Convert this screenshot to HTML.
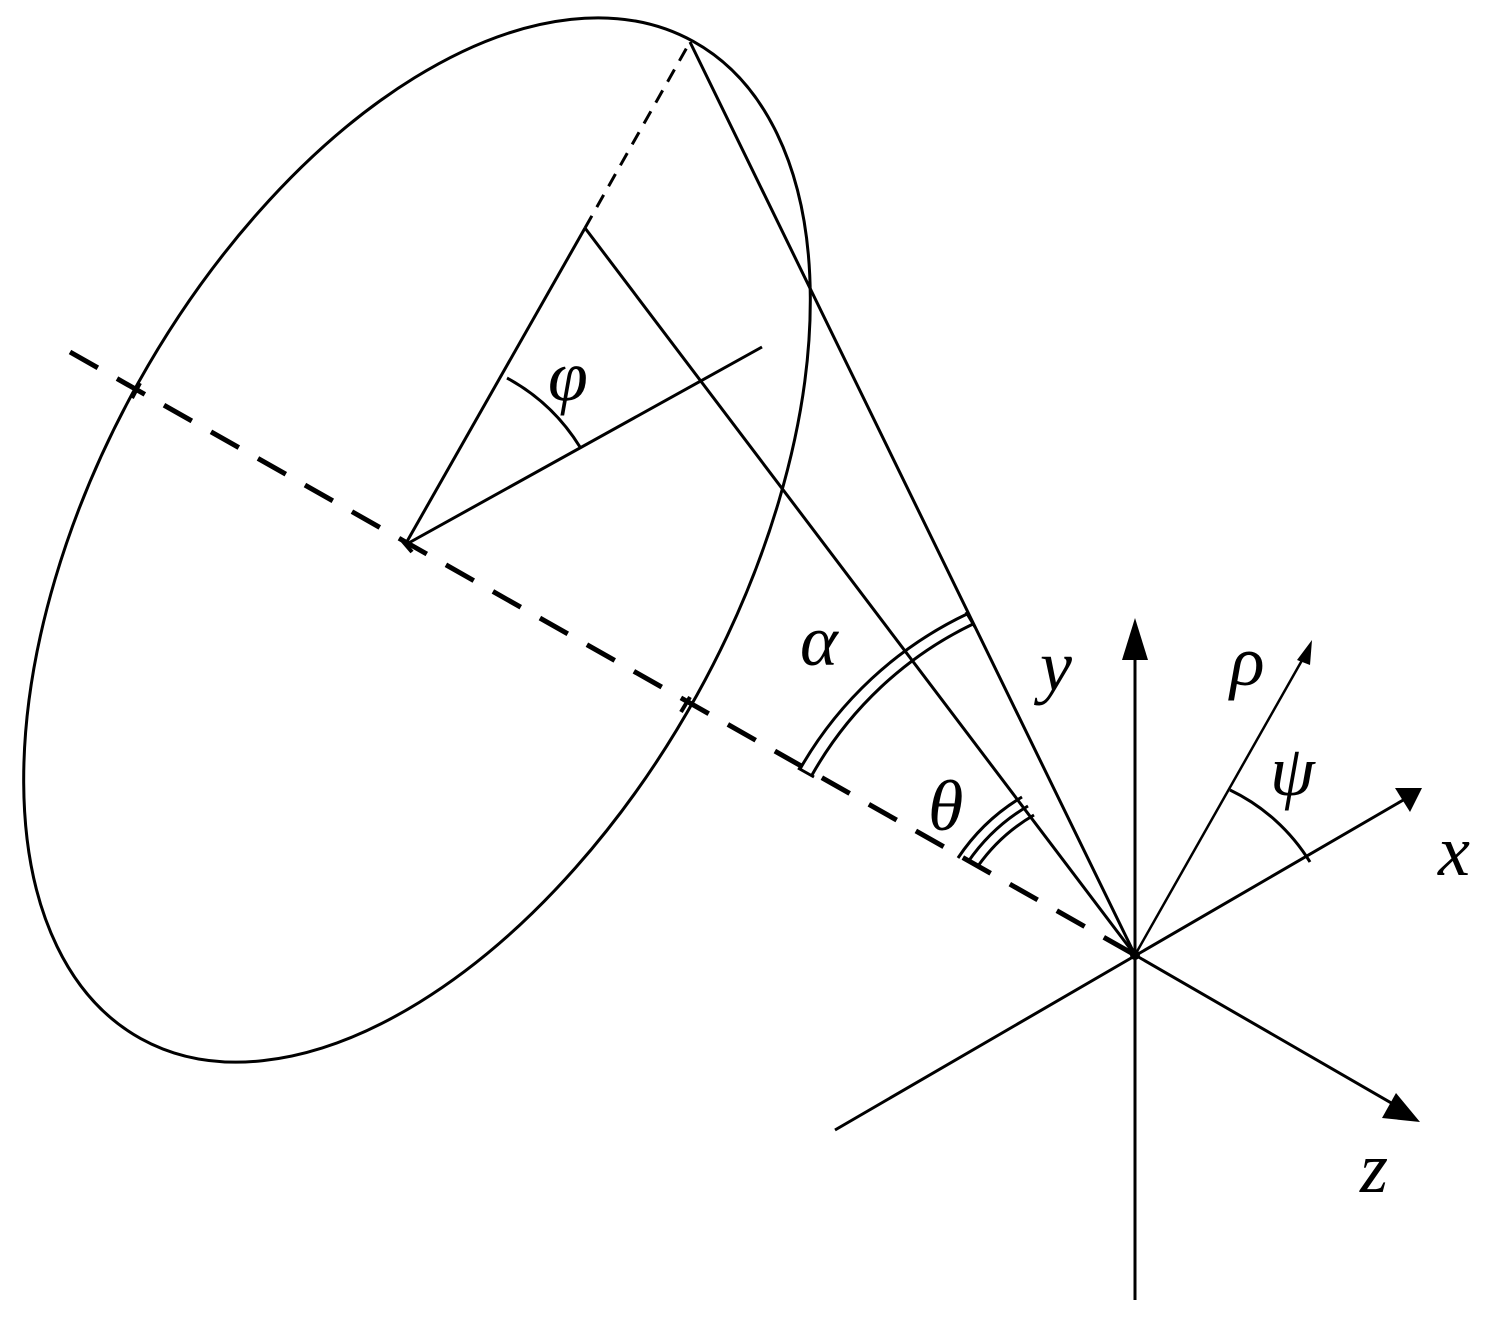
<!DOCTYPE html>
<html><head><meta charset="utf-8"><style>html,body{margin:0;padding:0;background:#fff}svg{display:block}</style></head>
<body>
<svg width="1501" height="1335" viewBox="0 0 1501 1335" xmlns="http://www.w3.org/2000/svg">
<g fill="none" stroke="#000" stroke-width="3">
<ellipse cx="417" cy="540" rx="570" ry="320" transform="rotate(-61 417 540)"/>
<line x1="70" y1="352" x2="1135" y2="955" stroke-width="5" stroke-dasharray="32,22"/>
<line x1="585" y1="228" x2="690" y2="42" stroke-dasharray="14,10"/>
<line x1="585" y1="228" x2="405" y2="545"/>
<line x1="585" y1="228" x2="1135" y2="955"/>
<line x1="405" y1="545" x2="762" y2="347"/>
<line x1="690" y1="42" x2="1135" y2="955"/>
<path d="M507 378 A195 195 0 0 1 580 447"/>
<line x1="140" y1="383" x2="132" y2="398" stroke-width="4"/>
<line x1="400" y1="538" x2="412" y2="552" stroke-width="4"/>
<line x1="690" y1="697" x2="681" y2="712" stroke-width="4"/>
<path d="M800 769 A380 380 0 0 1 967 614"/>
<path d="M812 775 A368 368 0 0 1 973 624"/>
<line x1="798" y1="768" x2="814" y2="777"/>
<line x1="966" y1="612" x2="975" y2="627"/>
<path d="M958 858 A200 200 0 0 1 1022 797"/>
<path d="M968 862 A188 188 0 0 1 1028 806"/>
<path d="M978 866 A176 176 0 0 1 1034 815"/>
<line x1="1135" y1="1300" x2="1135" y2="640"/>
<line x1="835" y1="1130" x2="1405" y2="799"/>
<line x1="1135" y1="955" x2="1400" y2="1108"/>
<line x1="1135" y1="955" x2="1305" y2="655" stroke-width="2.5"/>
<path d="M1230 790 A190 190 0 0 1 1310 862"/>
</g>
<g fill="#000">
<polygon points="1135,618 1122,660 1148,660"/>
<polygon points="1422,788 1395,788 1410,812"/>
<polygon points="1420,1122 1396,1093 1382,1118"/>
<polygon points="1312,640 1297,660 1310,665"/>
<circle cx="1135" cy="955" r="5"/>
</g>
<g font-family="Liberation Serif, serif" font-style="italic" font-size="72" fill="#000">
<text x="548" y="400">φ</text>
<text x="800" y="665">α</text>
<text x="1040" y="690">y</text>
<text x="1230" y="685">ρ</text>
<text x="1270" y="795">ψ</text>
<text x="928" y="830">θ</text>
<text x="1438" y="875">x</text>
<text x="1360" y="1192">z</text>
</g>
</svg>
</body></html>
